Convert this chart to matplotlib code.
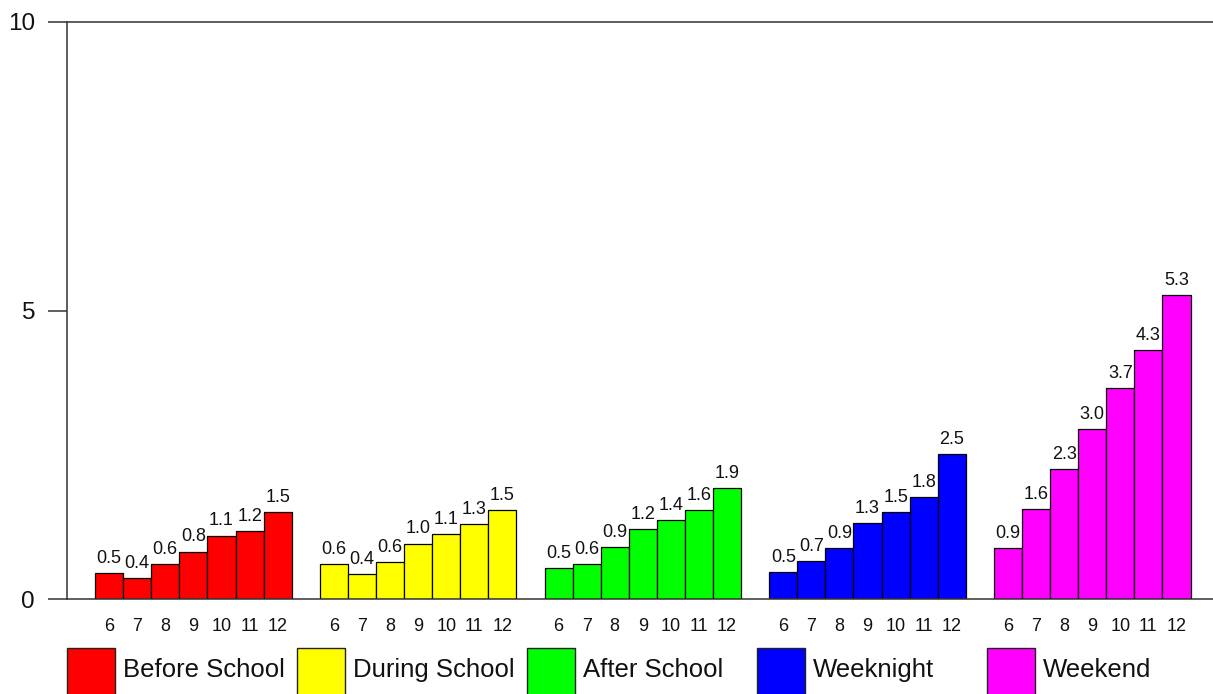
import numpy as np
import matplotlib
matplotlib.use("Agg")
from matplotlib import pyplot as plt
from matplotlib.patches import Rectangle

plt.rcParams['font.family'] = ['Liberation Sans', 'DejaVu Sans']

grades = ['6', '7', '8', '9', '10', '11', '12']
periods = ['Before School', 'During School', 'After School', 'Weeknight', 'Weekend']
colors = ['#ff0000', '#ffff00', '#00ff00', '#0000ff', '#ff00ff']

before_school = [0.45, 0.36, 0.60, 0.82, 1.10, 1.17, 1.50]
during_school = [0.61, 0.43, 0.64, 0.96, 1.12, 1.30, 1.54]
after_school = [0.54, 0.60, 0.90, 1.21, 1.37, 1.54, 1.92]
weeknight = [0.47, 0.65, 0.88, 1.32, 1.50, 1.77, 2.51]
weekend = [0.88, 1.56, 2.25, 2.95, 3.66, 4.31, 5.26]

before_labels = ['0.5', '0.4', '0.6', '0.8', '1.1', '1.2', '1.5']
during_labels = ['0.6', '0.4', '0.6', '1.0', '1.1', '1.3', '1.5']
after_labels = ['0.5', '0.6', '0.9', '1.2', '1.4', '1.6', '1.9']
weeknight_labels = ['0.5', '0.7', '0.9', '1.3', '1.5', '1.8', '2.5']
weekend_labels = ['0.9', '1.6', '2.3', '3.0', '3.7', '4.3', '5.3']

series = [before_school, during_school, after_school, weeknight, weekend]
series_labels = [before_labels, during_labels, after_labels, weeknight_labels, weekend_labels]

W, H = 1213, 694
fig = plt.figure(figsize=(W / 100, H / 100), dpi=100)
ax = fig.add_axes([67 / W, 1 - 599 / H, 1 - 67 / W, (599 - 22) / H])

spine_col = '#333333'
all_x = []
all_lab = []
for g, (vals, labs) in enumerate(zip(series, series_labels)):
    x = 1 + g * 8 + np.arange(len(vals))
    ax.bar(x, vals, width=1.0, color=colors[g], edgecolor='black', linewidth=0.9, zorder=2)
    for xi, v, lab in zip(x, vals, labs):
        ax.annotate(lab, (xi, v), xytext=(0, 4.5), textcoords='offset points',
                    ha='center', va='bottom', fontsize=13, color='#111111')
    all_x.extend(x)
    all_lab.extend(grades)

ax.set_xlim(-0.5, 40.3)
ax.set_ylim(0, 10)
ax.set_yticks([0, 5, 10])
ax.set_xticks(all_x)
ax.set_xticklabels(all_lab)
ax.tick_params(axis='x', length=0, pad=14, labelsize=13, labelcolor='#111111')
ax.tick_params(axis='y', length=14, width=1.1, color=spine_col, pad=9, labelsize=17.5,
               labelcolor='#111111', direction='out')

for side in ['left', 'top', 'bottom']:
    ax.spines[side].set_color(spine_col)
    ax.spines[side].set_linewidth(1.1)
ax.spines['right'].set_visible(False)

# legend boxes along the bottom
for g, name in enumerate(periods):
    left = 67 + 230 * g
    fig.add_artist(Rectangle((left / W, 1 - 696 / H), 48 / W, 48 / H,
                             transform=fig.transFigure, facecolor=colors[g],
                             edgecolor='#222222', linewidth=1.0, clip_on=False))
    fig.text((left + 56) / W, 1 - 670 / H, name, fontsize=18.5, va='center',
             ha='left', color='#111111')

fig.savefig('out.png', dpi=100)
